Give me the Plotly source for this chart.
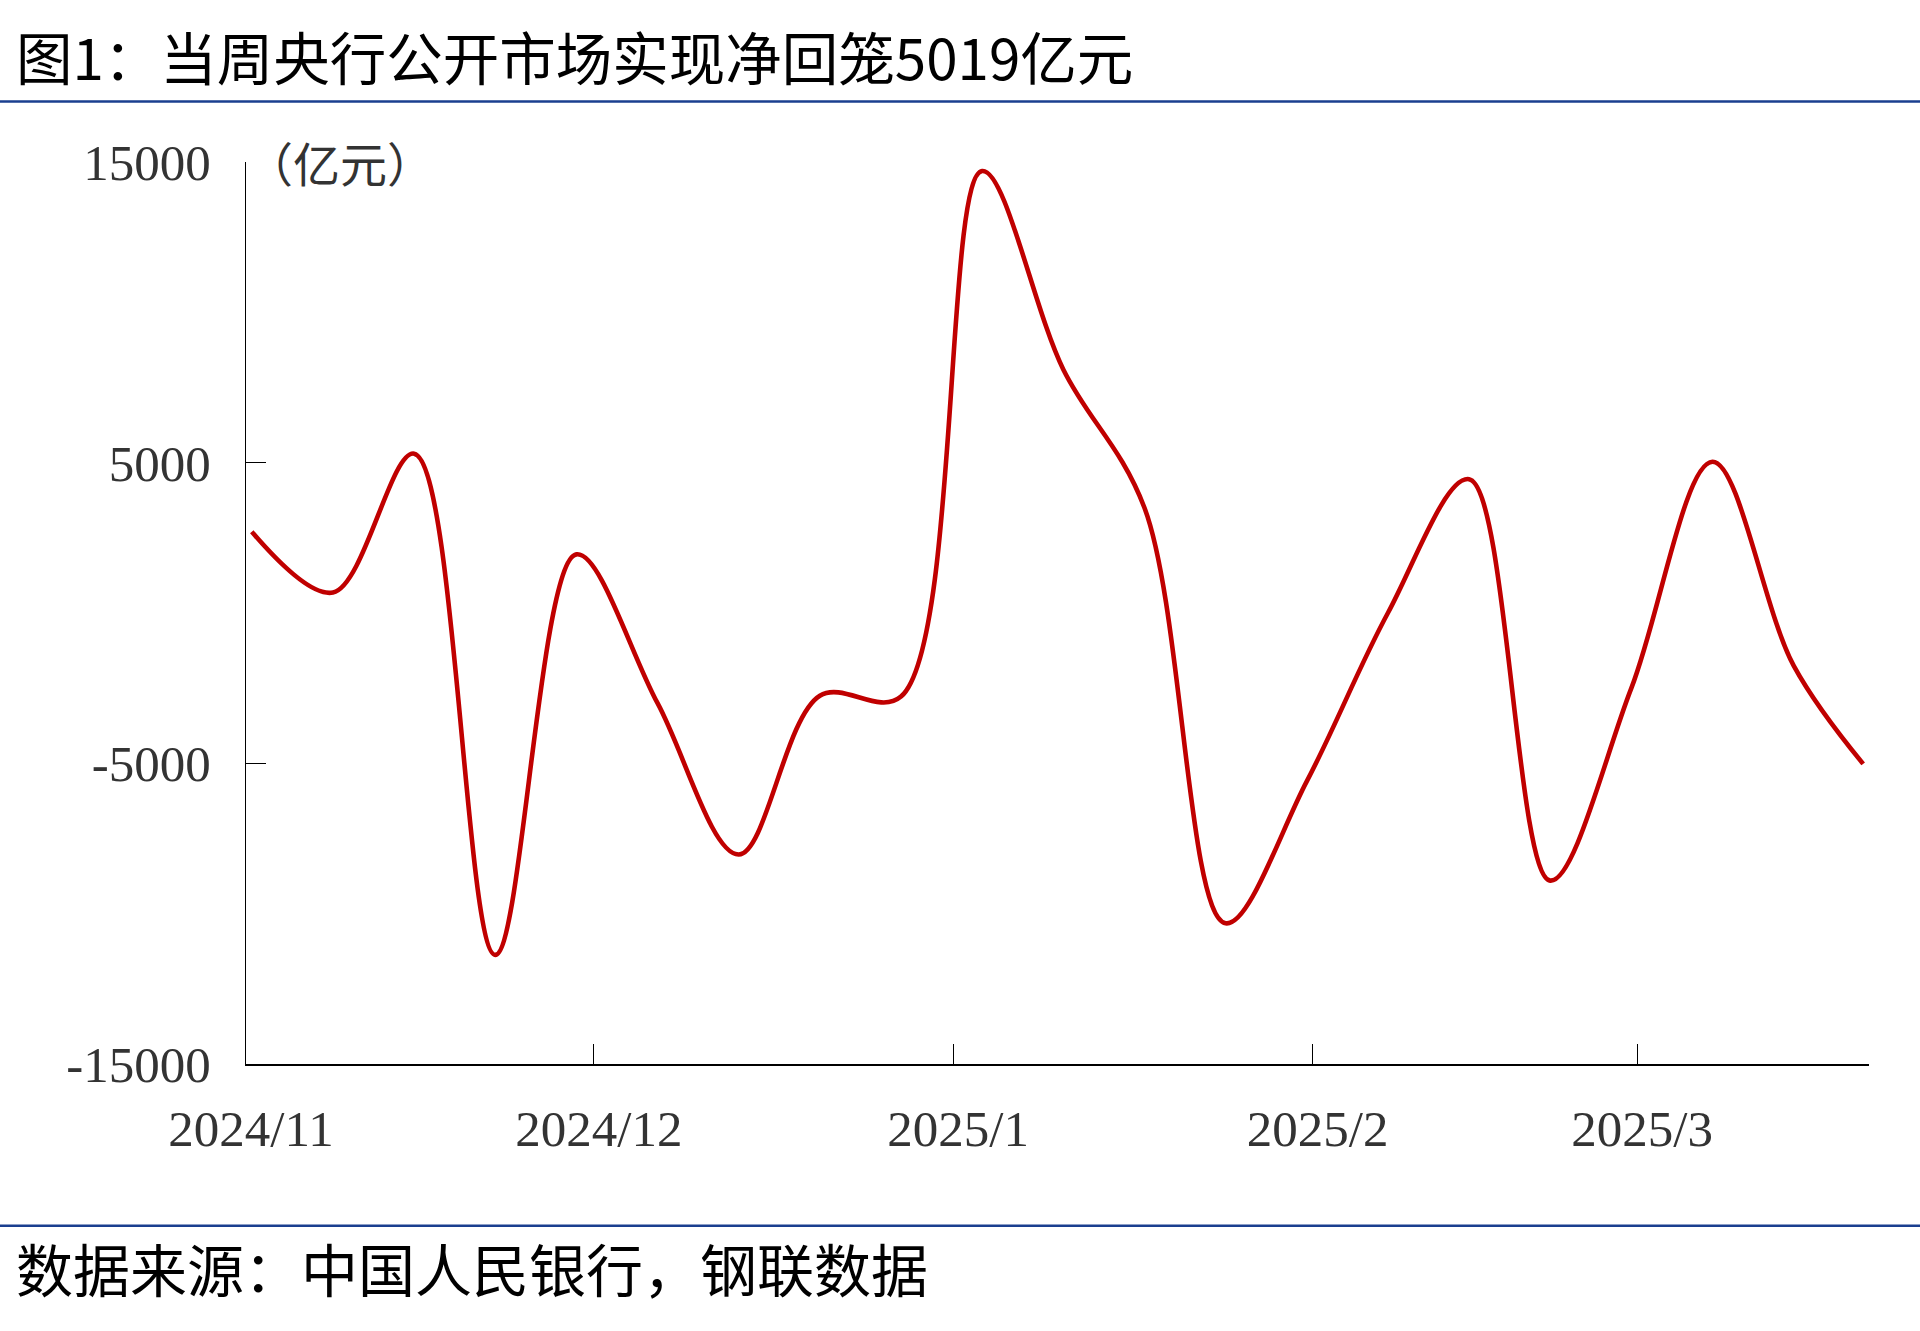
import plotly.graph_objects as go

# ---- data ----
dates = ["2024-11-01", "2024-11-08", "2024-11-15", "2024-11-22", "2024-11-29",
         "2024-12-06", "2024-12-13", "2024-12-20", "2024-12-27",
         "2025-01-03", "2025-01-10", "2025-01-17", "2025-01-24", "2025-01-31",
         "2025-02-07", "2025-02-14", "2025-02-21", "2025-02-28",
         "2025-03-07", "2025-03-14", "2025-03-20"]
net_withdrawal = [2700, 680, 5300, -11370, 1950,
                  -3000, -8030, -2750, -2780,
                  14700, 8100, 3500, -10320, -5600,
                  0, 4450, -8900, -2500,
                  5030, -1750, -5019]

x_tickvals = ["2024-11-01", "2024-12-01", "2025-01-01", "2025-02-01", "2025-03-01"]
x_ticktext = ["2024/11", "2024/12", "2025/1", "2025/2", "2025/3"]
y_tickvals = [15000, 5000, -5000, -15000]
y_ticktext = ["15000", "5000", "-5000", "-15000"]

title_text = "图1：当周央行公开市场实现净回笼5019亿元"
source_text = "数据来源：中国人民银行，钢联数据"
unit_text = "（亿元）"

# ---- layout geometry (pixels) ----
W, H = 1920, 1331
L, R, T, B = 246, 51, 162, 267
PW, PH = W - L - R, H - T - B


def px_x(X):
    return (X - L) / PW


def px_y(Y):
    return (H - B - Y) / PH


CJK = "Noto Sans CJK SC"
SERIF = "Liberation Serif"

fig = go.Figure()
fig.add_trace(go.Scatter(
    x=dates, y=net_withdrawal, mode="lines",
    xperiod=86400000, xperiodalignment="middle",
    line=dict(color="#C00000", width=4.6, shape="spline", smoothing=1.0),
    showlegend=False, hoverinfo="x+y",
))

fig.update_layout(
    width=W, height=H, autosize=False,
    margin=dict(l=L, r=R, t=T, b=B, pad=0),
    paper_bgcolor="white", plot_bgcolor="white",
    showlegend=False,
    xaxis=dict(
        type="date",
        range=["2024-11-01", "2025-03-21"],
        tickvals=x_tickvals, ticktext=x_ticktext,
        ticks="inside", ticklen=20, tickwidth=1.3, tickcolor="#000",
        showline=True, linecolor="#000", linewidth=1.6,
        showgrid=False, zeroline=False,
        tickfont=dict(family=SERIF, size=51, color="#333333"),
        ticklabelstandoff=19, ticklabelshift=5,
    ),
    yaxis=dict(
        range=[-15000, 15000],
        tickvals=y_tickvals, ticktext=y_ticktext,
        ticks="inside", ticklen=20, tickwidth=1.3, tickcolor="#000",
        showline=True, linecolor="#000", linewidth=1.3,
        showgrid=False, zeroline=False,
        tickfont=dict(family=SERIF, size=51, color="#333333"),
        ticklabelstandoff=24,
    ),
    shapes=[
        dict(type="line", xref="paper", yref="paper",
             x0=px_x(0), x1=px_x(W), y0=px_y(101.6), y1=px_y(101.6),
             line=dict(color="#1A3F8F", width=2.5)),
        dict(type="line", xref="paper", yref="paper",
             x0=px_x(0), x1=px_x(W), y0=px_y(1225.7), y1=px_y(1225.7),
             line=dict(color="#1A3F8F", width=2.5)),
    ],
    annotations=[
        dict(text=title_text, xref="paper", yref="paper",
             x=px_x(14), y=px_y(55), xanchor="left", yanchor="middle",
             showarrow=False, font=dict(family=CJK, size=56.5, color="#000")),
        dict(text=source_text, xref="paper", yref="paper",
             x=px_x(14), y=px_y(1267), xanchor="left", yanchor="middle",
             showarrow=False, font=dict(family=CJK, size=57, color="#000")),
        dict(text=unit_text, xref="paper", yref="paper",
             x=px_x(244), y=px_y(161.6), xanchor="left", yanchor="middle",
             showarrow=False, font=dict(family=CJK, size=47, color="#333333")),
    ],
)

fig.write_html("out.html",
               config={"displayModeBar": False},
               post_script="document.body.style.margin='0';"
                           "document.body.style.padding='0';")
